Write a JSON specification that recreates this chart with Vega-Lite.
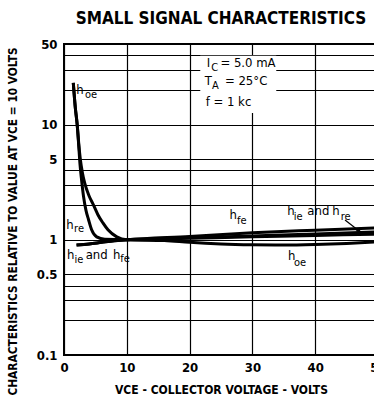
{
  "$schema": "https://vega.github.io/schema/vega-lite/v6.json",
  "autosize": "none",
  "width": 314,
  "height": 311,
  "padding": {"left": 64, "top": 44, "right": 0, "bottom": 50},
  "background": "white",
  "title": {"text": "SMALL SIGNAL CHARACTERISTICS", "font": "DejaVu Sans Condensed", "fontWeight": "bold", "fontSize": 17, "color": "black", "anchor": "middle", "offset": 10},
  "config": {
    "view": {"stroke": "black", "strokeWidth": 2},
    "axis": {"gridColor": "black", "gridOpacity": 1, "gridWidth": 1.2, "domain": false, "ticks": false, "labelFont": "DejaVu Sans Condensed", "labelFontWeight": "bold", "labelFontSize": 13, "labelColor": "black", "titleFont": "DejaVu Sans Condensed", "titleFontWeight": "bold", "titleColor": "black"}
  },
  "datasets": {
    "curves": [
      {"series": "hre", "vce": 1.48, "rel": 23},
      {"series": "hre", "vce": 1.8, "rel": 14},
      {"series": "hre", "vce": 2.1, "rel": 10},
      {"series": "hre", "vce": 2.35, "rel": 6.5},
      {"series": "hre", "vce": 2.55, "rel": 4.5},
      {"series": "hre", "vce": 2.8, "rel": 3.3},
      {"series": "hre", "vce": 3.1, "rel": 2.4},
      {"series": "hre", "vce": 3.5, "rel": 1.8},
      {"series": "hre", "vce": 3.9, "rel": 1.5},
      {"series": "hre", "vce": 4.4, "rel": 1.22},
      {"series": "hre", "vce": 5.2, "rel": 1.06},
      {"series": "hre", "vce": 6.5, "rel": 1.01},
      {"series": "hre", "vce": 10, "rel": 1.0},
      {"series": "hre", "vce": 20, "rel": 1.03},
      {"series": "hre", "vce": 30, "rel": 1.06},
      {"series": "hre", "vce": 40, "rel": 1.09},
      {"series": "hre", "vce": 50, "rel": 1.12},
      {"series": "hoe", "vce": 1.48, "rel": 23},
      {"series": "hoe", "vce": 1.8, "rel": 14},
      {"series": "hoe", "vce": 2.1, "rel": 10},
      {"series": "hoe", "vce": 2.35, "rel": 6.8},
      {"series": "hoe", "vce": 2.6, "rel": 5.0},
      {"series": "hoe", "vce": 2.9, "rel": 3.9},
      {"series": "hoe", "vce": 3.3, "rel": 3.1},
      {"series": "hoe", "vce": 4.0, "rel": 2.4},
      {"series": "hoe", "vce": 4.7, "rel": 2.0},
      {"series": "hoe", "vce": 5.4, "rel": 1.65},
      {"series": "hoe", "vce": 6.2, "rel": 1.4},
      {"series": "hoe", "vce": 7.0, "rel": 1.22},
      {"series": "hoe", "vce": 8.4, "rel": 1.06},
      {"series": "hoe", "vce": 10, "rel": 1.0},
      {"series": "hoe", "vce": 16, "rel": 0.985},
      {"series": "hoe", "vce": 20, "rel": 0.95},
      {"series": "hoe", "vce": 25, "rel": 0.92},
      {"series": "hoe", "vce": 30, "rel": 0.905},
      {"series": "hoe", "vce": 35, "rel": 0.9},
      {"series": "hoe", "vce": 40, "rel": 0.91},
      {"series": "hoe", "vce": 45, "rel": 0.93},
      {"series": "hoe", "vce": 50, "rel": 0.96},
      {"series": "hfe", "vce": 2, "rel": 0.9},
      {"series": "hfe", "vce": 4, "rel": 0.92},
      {"series": "hfe", "vce": 6, "rel": 0.95},
      {"series": "hfe", "vce": 8, "rel": 0.98},
      {"series": "hfe", "vce": 10, "rel": 1.0},
      {"series": "hfe", "vce": 20, "rel": 1.07},
      {"series": "hfe", "vce": 30, "rel": 1.15},
      {"series": "hfe", "vce": 40, "rel": 1.21},
      {"series": "hfe", "vce": 50, "rel": 1.27},
      {"series": "hie", "vce": 2, "rel": 0.9},
      {"series": "hie", "vce": 4, "rel": 0.92},
      {"series": "hie", "vce": 6, "rel": 0.95},
      {"series": "hie", "vce": 8, "rel": 0.98},
      {"series": "hie", "vce": 10, "rel": 1.0},
      {"series": "hie", "vce": 20, "rel": 1.04},
      {"series": "hie", "vce": 30, "rel": 1.08},
      {"series": "hie", "vce": 40, "rel": 1.12},
      {"series": "hie", "vce": 50, "rel": 1.17}
    ],
    "mainText": [
      {"vce": 2.55, "rel": 20.0, "t": "h"},
      {"vce": 0.96, "rel": 1.34, "t": "h"},
      {"vce": 1.07, "rel": 0.736, "t": "h"},
      {"vce": 5.2, "rel": 0.736, "t": "and"},
      {"vce": 8.39, "rel": 0.736, "t": "h"},
      {"vce": 26.96, "rel": 1.63, "t": "h"},
      {"vce": 36.15, "rel": 1.766, "t": "h"},
      {"vce": 40.5, "rel": 1.766, "t": "and"},
      {"vce": 43.3, "rel": 1.766, "t": "h"},
      {"vce": 36.26, "rel": 0.717, "t": "h"},
      {"vce": 23.0, "rel": 34.4, "t": "I"},
      {"vce": 29.3, "rel": 34.4, "t": "= 5.0 mA"},
      {"vce": 23.0, "rel": 23.8, "t": "T"},
      {"vce": 29.0, "rel": 23.8, "t": "= 25°C"},
      {"vce": 26.19, "rel": 15.8, "t": "f = 1 kc"}
    ],
    "subText": [
      {"vce": 4.3, "rel": 18.1, "t": "oe"},
      {"vce": 2.39, "rel": 1.239, "t": "re"},
      {"vce": 2.39, "rel": 0.666, "t": "ie"},
      {"vce": 9.71, "rel": 0.68, "t": "fe"},
      {"vce": 28.3, "rel": 1.445, "t": "fe"},
      {"vce": 37.3, "rel": 1.566, "t": "ie"},
      {"vce": 44.86, "rel": 1.566, "t": "re"},
      {"vce": 37.58, "rel": 0.627, "t": "oe"},
      {"vce": 24.0, "rel": 31.1, "t": "C"},
      {"vce": 24.1, "rel": 21.4, "t": "A"}
    ],
    "box": [{"x1": 21.7, "x2": 33.8, "y1": 12.6, "y2": 39.6}],
    "arrow": [{"x1": 44.75, "y1": 1.483, "x2": 47.0, "y2": 1.19}]
  },
  "layer": [
    {
      "data": {"name": "box"},
      "mark": {"type": "rect", "fill": "white", "stroke": null},
      "encoding": {
        "x": {"field": "x1", "type": "quantitative", "scale": {"domain": [0, 50], "nice": false, "zero": false},
          "axis": {"values": [0,5,10,15,20,25,30,35,40,45,50], "labelExpr": "datum.value % 10 === 0 ? datum.label : ''", "labelPadding": 6, "labelFlush": false, "title": "VCE  -  COLLECTOR VOLTAGE  -  VOLTS", "titleFontSize": 12, "titlePadding": 10}},
        "x2": {"field": "x2"},
        "y": {"field": "y1", "type": "quantitative", "scale": {"type": "log", "domain": [0.1, 50], "nice": false},
          "axis": {"values": [0.1,0.2,0.3,0.4,0.5,1,2,3,4,5,10,20,30,40,50], "format": "~g", "labelExpr": "indexof([0.1,0.5,1,5,10,50], datum.value) >= 0 ? datum.label : ''", "labelPadding": 7, "labelFlush": false, "title": "CHARACTERISTICS RELATIVE TO VALUE AT VCE = 10 VOLTS", "titleFontSize": 11.8, "titleX": -52, "titleY": 177, "titleBaseline": "middle", "titleAngle": 270}},
        "y2": {"field": "y2"}
      }
    },
    {
      "data": {"name": "curves"},
      "mark": {"type": "line", "color": "black", "strokeWidth": 3, "interpolate": "monotone", "clip": true},
      "encoding": {
        "x": {"field": "vce", "type": "quantitative"},
        "y": {"field": "rel", "type": "quantitative"},
        "detail": {"field": "series"}
      }
    },
    {
      "data": {"name": "mainText"},
      "mark": {"type": "text", "font": "DejaVu Sans Condensed", "fontSize": 13, "color": "black", "align": "center", "baseline": "middle"},
      "encoding": {
        "x": {"field": "vce", "type": "quantitative"},
        "y": {"field": "rel", "type": "quantitative"},
        "text": {"field": "t"}
      }
    },
    {
      "data": {"name": "subText"},
      "mark": {"type": "text", "font": "DejaVu Sans Condensed", "fontSize": 11, "color": "black", "align": "center", "baseline": "middle"},
      "encoding": {
        "x": {"field": "vce", "type": "quantitative"},
        "y": {"field": "rel", "type": "quantitative"},
        "text": {"field": "t"}
      }
    },
    {
      "data": {"name": "arrow"},
      "mark": {"type": "rule", "color": "black", "strokeWidth": 1.2},
      "encoding": {
        "x": {"field": "x1", "type": "quantitative"},
        "y": {"field": "y1", "type": "quantitative"},
        "x2": {"field": "x2"},
        "y2": {"field": "y2"}
      }
    },
    {
      "data": {"name": "arrow"},
      "mark": {"type": "point", "shape": "triangle-down", "filled": true, "color": "black", "size": 28, "opacity": 1, "angle": -35},
      "encoding": {
        "x": {"field": "x2", "type": "quantitative"},
        "y": {"field": "y2", "type": "quantitative"}
      }
    }
  ]
}
